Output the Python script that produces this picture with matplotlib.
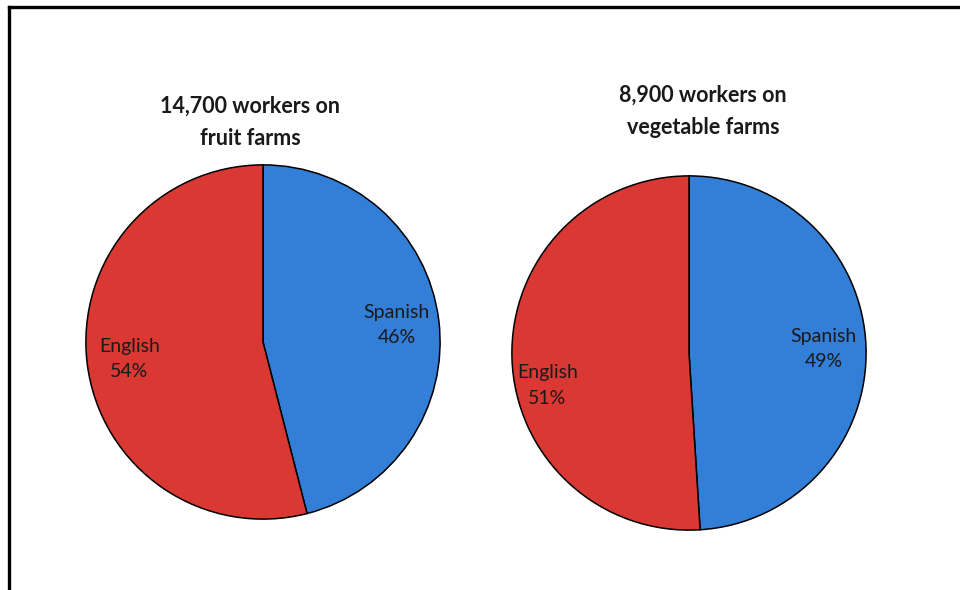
import matplotlib
matplotlib.use("Agg")
import matplotlib.pyplot as plt
from matplotlib.lines import Line2D

plt.rcParams['font.family'] = ['Lato', 'DejaVu Sans']

languages = ['Spanish', 'English']
fruit_share = [46, 54]
veg_share = [49, 51]
titles = ['14,700 workers on\nfruit farms', '8,900 workers on\nvegetable farms']
colors = ['#337ED6', '#D93833']

W, H = 960, 590
fig = plt.figure(figsize=(W / 100, H / 100), dpi=100)

# pie placement in pixels: (centre x, centre y from top, radius)
pies = [(263, 342, 178), (689, 353, 178)]
title_pos = [(250, 122), (703, 111)]


def draw_pie(shares, cx, cy, r):
    ax = fig.add_axes([(cx - r) / W, (H - cy - r) / H, 2 * r / W, 2 * r / H])
    labels = [f'{l}\n{v}%' for l, v in zip(languages, shares)]
    wedges, texts = ax.pie(shares, labels=labels, colors=colors, startangle=90,
                           counterclock=False, labeldistance=0.76,
                           wedgeprops=dict(edgecolor='black', linewidth=1.1),
                           textprops=dict(fontsize=14, color='#1a1a1a',
                                          ha='center', va='center',
                                          linespacing=1.6))
    ax.set_xlim(-1.005, 1.005)
    ax.set_ylim(-1.005, 1.005)
    return ax, texts


ax1, t1 = draw_pie(fruit_share, *pies[0])
ax2, t2 = draw_pie(veg_share, *pies[1])
# Excel nudged the English label down on the vegetable pie
x, y = t2[1].get_position()
t2[1].set_position((x - 0.04, y - 0.16))

for (tx, ty), t in zip(title_pos, titles):
    fig.text(tx / W, 1 - ty / H, t, ha='center', va='center', fontsize=15.5,
             fontweight='bold', color='#1a1a1a', linespacing=1.65)

# frame: top and left edges only
fig.add_artist(Line2D([9 / W, 1], [1 - 6.5 / H, 1 - 6.5 / H], color='black',
                      linewidth=2.4, transform=fig.transFigure))
fig.add_artist(Line2D([9 / W, 9 / W], [0, 1 - 6.5 / H], color='black',
                      linewidth=2.4, transform=fig.transFigure))

fig.savefig('out.png', dpi=100)
